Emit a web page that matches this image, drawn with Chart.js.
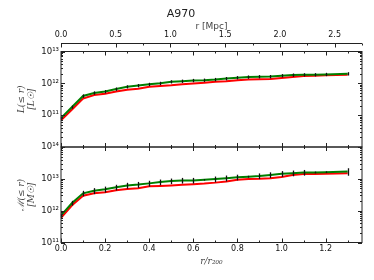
<!DOCTYPE html>
<html>
<head>
<meta charset="utf-8">
<script src="https://cdn.jsdelivr.net/npm/chart.js@4/dist/chart.umd.min.js"></script>
<style>
  html, body { margin: 0; padding: 0; background: #fff; }
  #wrap { width: 374px; height: 280px; }
</style>
</head>
<body>
<div id="wrap"><canvas id="c" width="374" height="280"></canvas></div>
<script>
/* ── A970: luminosity / mass profiles ─────────────────────────────── */

// radius in units of r200
const radius = [0.00, 0.05, 0.10, 0.15, 0.20, 0.25, 0.30, 0.35, 0.40, 0.45,
                0.50, 0.55, 0.60, 0.65, 0.70, 0.75, 0.80, 0.85, 0.90, 0.95,
                1.00, 1.05, 1.10, 1.15, 1.20, 1.30];

// L(<= r) [Lsun]
const lumGreen = [8.1e10, 1.8e11, 4.0e11, 5.0e11, 5.5e11, 6.6e11, 7.8e11, 8.5e11, 9.3e11, 1.0e12,
                  1.12e12, 1.17e12, 1.23e12, 1.26e12, 1.32e12, 1.41e12, 1.51e12, 1.58e12, 1.62e12, 1.63e12,
                  1.74e12, 1.82e12, 1.86e12, 1.87e12, 1.91e12, 2.0e12];
const lumRed   = [6.9e10, 1.5e11, 3.3e11, 4.3e11, 4.7e11, 5.5e11, 6.3e11, 6.8e11, 7.8e11, 8.3e11,
                  8.7e11, 9.3e11, 9.8e11, 1.05e12, 1.12e12, 1.17e12, 1.26e12, 1.32e12, 1.35e12, 1.36e12,
                  1.48e12, 1.58e12, 1.70e12, 1.74e12, 1.78e12, 1.86e12];
const lumErr   = [0.8e10, 2e10, 5e10, 6e10, 6.5e10, 8e10, 9e10, 1.0e11, 1.1e11, 1.2e11,
                  1.3e11, 1.4e11, 1.5e11, 1.5e11, 1.6e11, 1.7e11, 1.8e11, 1.9e11, 1.9e11, 2.0e11,
                  2.1e11, 2.2e11, 2.2e11, 2.2e11, 2.3e11, 2.4e11];

// M(<= r) [Msun]
const massGreen = [7.1e11, 1.74e12, 3.5e12, 4.2e12, 4.7e12, 5.4e12, 6.2e12, 6.6e12, 7.2e12, 7.9e12,
                   8.5e12, 8.9e12, 8.9e12, 9.3e12, 9.8e12, 1.05e13, 1.12e13, 1.17e13, 1.23e13, 1.33e13,
                   1.45e13, 1.51e13, 1.58e13, 1.59e13, 1.62e13, 1.70e13];
const massRed   = [6.0e11, 1.48e12, 2.95e12, 3.5e12, 3.8e12, 4.4e12, 4.8e12, 5.1e12, 5.8e12, 6.0e12,
                   6.2e12, 6.5e12, 6.8e12, 7.1e12, 7.6e12, 8.3e12, 9.3e12, 9.8e12, 1.0e13, 1.05e13,
                   1.15e13, 1.32e13, 1.41e13, 1.42e13, 1.45e13, 1.51e13];
const massErr   = [1.0e11, 3.0e11, 7e11, 9e11, 1.0e12, 1.1e12, 1.3e12, 1.4e12, 1.5e12, 1.6e12,
                   1.7e12, 1.8e12, 1.8e12, 0.5e12, 2.0e12, 2.2e12, 2.3e12, 0.8e12, 2.5e12, 2.7e12,
                   3.0e12, 3.1e12, 3.2e12, 1.0e12, 1.0e12, 4.5e12];

// axes
const ratioMax   = 1.365;
const mpcMax     = 2.75;
const ratioTicks = [0, 0.2, 0.4, 0.6, 0.8, 1.0, 1.2];
const mpcTicks   = [0, 0.5, 1.0, 1.5, 2.0, 2.5];
const lumTicks   = [1e11, 1e12, 1e13];
const massTicks  = [1e11, 1e12, 1e13, 1e14];

// ── helpers ──────────────────────────────────────────────────────────
const SUP = {'0':'⁰','1':'¹','2':'²','3':'³','4':'⁴','5':'⁵','6':'⁶','7':'⁷','8':'⁸','9':'⁹','-':'⁻'};
function powLabel(v) {
  const e = Math.round(Math.log10(v));
  return '10' + String(e).split('').map(function(c) { return SUP[c]; }).join('');
}
function pts(ys) {
  return radius.map(function(r, i) { return { x: r, y: ys[i] }; });
}
function setTicks(list) {
  return function(scale) { scale.ticks = list.map(function(v) { return { value: v }; }); };
}

// ── error bars (green series) ────────────────────────────────────────
const errorBars = {
  id: 'errorBars',
  afterDatasetsDraw(chart) {
    const ctx = chart.ctx, x = chart.scales.x;
    ctx.save();
    ctx.strokeStyle = '#111';
    ctx.lineWidth = 1.3;
    chart.data.datasets.forEach(function(ds) {
      if (!ds.errors) return;
      const ys = chart.scales[ds.yAxisID];
      ds.data.forEach(function(p, i) {
        const px = Math.round(x.getPixelForValue(p.x)) + 0.5;
        ctx.beginPath();
        ctx.moveTo(px, ys.getPixelForValue(p.y - ds.errors[i]));
        ctx.lineTo(px, ys.getPixelForValue(p.y + ds.errors[i]));
        ctx.stroke();
      });
    });
    ctx.restore();
  }
};

// ── frames + inward ticks (matplotlib look) ──────────────────────────
const frameTicks = {
  id: 'frameTicks',
  afterDraw(chart) {
    const ctx = chart.ctx, ca = chart.chartArea, s = chart.scales;
    const L = ca.left, R = ca.right;
    ctx.save();
    ctx.strokeStyle = '#222';
    ctx.lineWidth = 1;
    function seg(x1, y1, x2, y2) {
      ctx.beginPath(); ctx.moveTo(x1, y1); ctx.lineTo(x2, y2); ctx.stroke();
    }
    [s.yL, s.yM].forEach(function(ys) {
      const T = ys.top, B = ys.bottom;
      ctx.strokeRect(L, T, R - L, B - T);
      // x ticks top & bottom of each panel
      for (let v = 0; v <= ratioMax + 1e-9; v += 0.1) {
        const px = Math.round(s.x.getPixelForValue(v)) + 0.5;
        const len = (Math.round(v * 10) % 2 === 0) ? 4 : 2;
        seg(px, B, px, B - len);
        seg(px, T, px, T + len);
      }
      // log ticks left & right
      const lo = Math.floor(Math.log10(ys.min)), hi = Math.ceil(Math.log10(ys.max));
      for (let d = lo; d <= hi; d++) {
        for (let m = 1; m <= 9; m++) {
          const v = m * Math.pow(10, d);
          if (v < ys.min * 0.999 || v > ys.max * 1.001) continue;
          const py = Math.round(ys.getPixelForValue(v)) + 0.5;
          const len = m === 1 ? 4 : 2;
          seg(L, py, L + len, py);
          seg(R, py, R - len, py);
        }
      }
    });
    // top Mpc axis, sitting above the upper panel
    const xt = s.xMpc;
    const yAx = Math.round(xt.bottom - 9) + 0.5;
    seg(L, yAx, R, yAx);
    for (let v = 0; v <= mpcMax + 1e-9; v += 0.25) {
      const px = Math.round(xt.getPixelForValue(v)) + 0.5;
      const len = (Math.round(v * 4) % 2 === 0) ? 4 : 2;
      seg(px, yAx, px, yAx + len);
    }
    ctx.restore();
  }
};

// ── chart ────────────────────────────────────────────────────────────
Chart.defaults.font.family = "'DejaVu Sans', sans-serif";
Chart.defaults.color = '#111';

const noGrid = { display: false, drawTicks: false };
const noBorder = { display: false };

new Chart(document.getElementById('c'), {
  type: 'line',
  data: {
    datasets: [
      { data: pts(lumGreen),  yAxisID: 'yL', borderColor: '#007f00', errors: lumErr },
      { data: pts(lumRed),    yAxisID: 'yL', borderColor: '#ff0000' },
      { data: pts(massGreen), yAxisID: 'yM', borderColor: '#007f00', errors: massErr },
      { data: pts(massRed),   yAxisID: 'yM', borderColor: '#ff0000' }
    ]
  },
  options: {
    responsive: false,
    animation: false,
    devicePixelRatio: 1,
    layout: { padding: { left: 0, right: 12, top: 0, bottom: 0 } },
    elements: {
      line: { borderWidth: 2, tension: 0, fill: false },
      point: { radius: 0 }
    },
    plugins: {
      legend: { display: false },
      tooltip: { enabled: false },
      title: {
        display: true,
        text: 'A970',
        color: '#222',
        font: { size: 11, weight: 'normal' },
        padding: { top: 8, bottom: 0 }
      }
    },
    scales: {
      x: {
        type: 'linear', position: 'bottom', min: 0, max: ratioMax,
        grid: noGrid, border: noBorder,
        afterBuildTicks: setTicks(ratioTicks),
        afterFit: function(sc) { sc.height = 37.5; },
        ticks: { padding: 1.5, font: { size: 8 }, callback: function(v) { return v.toFixed(1); } },
        title: {
          display: true, text: 'r/r₂₀₀', color: '#444',
          font: { size: 9, family: "'DejaVu Serif', serif", style: 'italic' },
          padding: { top: 13, bottom: 13 }
        }
      },
      xMpc: {
        type: 'linear', position: 'top', min: 0, max: mpcMax,
        grid: { display: false, drawTicks: true, tickLength: 9 }, border: noBorder,
        afterBuildTicks: setTicks(mpcTicks),
        afterFit: function(sc) { sc.height = 51.5 - 21.2; },
        ticks: { padding: 3, font: { size: 8 }, callback: function(v) { return v.toFixed(1); } },
        title: {
          display: true, text: 'r [Mpc]', color: '#444',
          font: { size: 9 },
          padding: { top: 0, bottom: 0 }
        }
      },
      // lower panel first: stacked left axes are laid out last-defined on top
      yM: {
        type: 'logarithmic', position: 'left', stack: 'panels', stackWeight: 1,
        min: 1e11, max: 1e14,
        grid: noGrid, border: noBorder,
        afterBuildTicks: setTicks(massTicks),
        afterFit: function(sc) { sc.width = 61; },
        ticks: { padding: 2, font: { size: 8.5 }, callback: powLabel },
        title: {
          display: true, text: ['ℳ(≤ r)', '[M☉]'], color: '#444',
          font: { size: 9, family: "'DejaVu Serif', serif", style: 'italic', lineHeight: 1.1 },
          padding: { top: 17, bottom: 17 }
        }
      },
      yL: {
        type: 'logarithmic', position: 'left', stack: 'panels', stackWeight: 1,
        min: 1e10, max: 1e13,
        grid: noGrid, border: noBorder,
        afterBuildTicks: setTicks(lumTicks),
        afterFit: function(sc) { sc.width = 61; },
        ticks: { padding: 2, font: { size: 8.5 }, callback: powLabel },
        title: {
          display: true, text: ['L(≤ r)', '[L☉]'], color: '#444',
          font: { size: 9, family: "'DejaVu Serif', serif", style: 'italic', lineHeight: 1.1 },
          padding: { top: 17, bottom: 17 }
        }
      }
    }
  },
  plugins: [errorBars, frameTicks]
});
</script>
</body>
</html>
